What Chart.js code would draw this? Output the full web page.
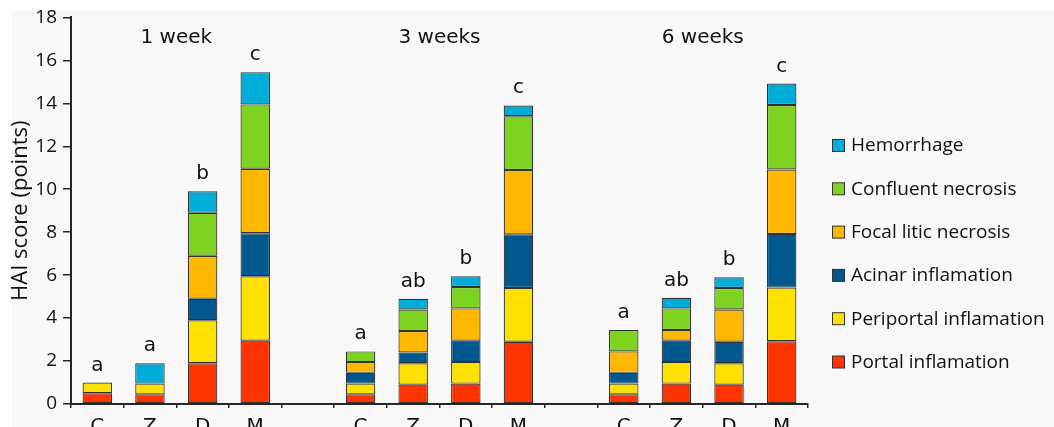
<!DOCTYPE html>
<html><head><meta charset="utf-8">
<script src="https://cdn.jsdelivr.net/npm/chart.js@4.4.1/dist/chart.umd.min.js"></script>
<style>
html,body{margin:0;padding:0;background:#fff;overflow:hidden;width:1054px;height:427px;}
#wrap{position:relative;width:1054px;height:440px;}
</style></head><body>
<div id="wrap"><canvas id="c" width="1054" height="440"></canvas></div>
<script>
// ---- data ----
const categories  = ['C','Z','D','M','','C','Z','D','M','','C','Z','D','M'];
const groupLabels = ['1 week','3 weeks','6 weeks'];
const sigLetters  = ['a','a','b','c','','a','ab','b','c','','a','ab','b','c'];
const yTicks      = [0,2,4,6,8,10,12,14,16,18];
const yTitle      = 'HAI score (points)';

const seriesNames = ['Portal inflamation','Periportal inflamation','Acinar inflamation','Focal litic necrosis','Confluent necrosis','Hemorrhage'];
const portal      = [0.5, 0.45, 1.9, 2.95, null, 0.45, 0.9, 0.95, 2.9, null, 0.45, 0.95, 0.9, 2.92];
const periportal  = [0.5, 0.5,  2.0, 3.0,  null, 0.5,  1.0, 1.0,  2.5, null, 0.5,  1.0,  1.0, 2.5];
const acinar      = [0,   0,    1.0, 2.0,  null, 0.5,  0.5, 1.0,  2.5, null, 0.5,  1.0,  1.0, 2.5];
const focal       = [0,   0,    2.0, 3.0,  null, 0.5,  1.0, 1.5,  3.0, null, 1.0,  0.5,  1.5, 3.0];
const confluent   = [0,   0,    2.0, 3.0,  null, 0.5,  1.0, 1.0,  2.5, null, 1.0,  1.0,  1.0, 3.0];
const hemorrhage  = [0,   0.95, 1.0, 1.5,  null, 0,    0.5, 0.5,  0.5, null, 0,    0.5,  0.5, 1.0];
const seriesValues = [portal, periportal, acinar, focal, confluent, hemorrhage];
const seriesColors = ['#FF3300','#FFE100','#00588C','#FFB800','#7ED321','#00ACD8'];

const TXT = '#111111';
const AX = '#262626';

const bgPlugin = {
  id:'bg',
  beforeDraw(chart){
    const ctx = chart.ctx;
    ctx.save();
    ctx.fillStyle = '#ffffff';
    ctx.fillRect(0,0,chart.width,chart.height);
    ctx.fillStyle = '#f8f8f8';
    ctx.fillRect(12,10,chart.width-12,chart.height-10);
    ctx.restore();
  }
};

const annotPlugin = {
  id:'annot',
  afterDatasetsDraw(chart){
    const ctx = chart.ctx, xs = chart.scales.x, ys = chart.scales.y;
    ctx.save();
    ctx.fillStyle = TXT;
    ctx.textAlign = 'center';
    ctx.textBaseline = 'alphabetic';
    ctx.font = '20px "DejaVu Sans"';
    // significance letters
    categories.forEach((c,i)=>{
      if(!sigLetters[i]) return;
      let total = 0;
      seriesValues.forEach(s=>{ total += (s[i]||0); });
      ctx.fillText(sigLetters[i], xs.getPixelForValue(i), ys.getPixelForValue(total) - 12);
    });
    // group labels: centre of each run of non-empty categories
    const runs = [];
    let start = null;
    categories.forEach((c,i)=>{
      if(c && start===null) start = i;
      if((!c || i===categories.length-1) && start!==null){
        const end = c ? i : i-1;
        runs.push([start,end]); start = null;
      }
    });
    runs.forEach((r,k)=>{
      const x = (xs.getPixelForValue(r[0]) + xs.getPixelForValue(r[1]))/2;
      ctx.fillText(groupLabels[k], x, 43);
    });
    // legend (reverse order)
    ctx.textAlign = 'left';
    ctx.textBaseline = 'middle';
    ctx.font = '19px "Open Sans"';
    const ds = chart.data.datasets.slice().reverse();
    ds.forEach((d,k)=>{
      const cy = 146 + k*43.3;
      ctx.fillStyle = d.backgroundColor;
      ctx.fillRect(832.5, cy-6.5, 12, 12);
      ctx.strokeStyle = '#333';
      ctx.lineWidth = 1;
      ctx.strokeRect(832.5, cy-6.5, 12, 12);
      ctx.fillStyle = TXT;
      ctx.fillText(d.label, 851, cy);
    });
    ctx.restore();
  }
};

new Chart(document.getElementById('c'), {
  type:'bar',
  data:{
    labels: categories,
    datasets: seriesNames.map((n,i)=>({
      label:n,
      data:seriesValues[i],
      backgroundColor:seriesColors[i],
      borderColor:'#333333',
      borderWidth:1.2,
      borderSkipped:false,
      barPercentage:0.56,
      categoryPercentage:1.0,
      stack:'s'
    }))
  },
  options:{
    responsive:false,
    animation:false,
    devicePixelRatio:1,
    layout:{padding:{left:0,top:16,right:246,bottom:0}},
    plugins:{legend:{display:false},tooltip:{enabled:false}},
    scales:{
      x:{
        stacked:true,
        grid:{display:true,drawOnChartArea:false,drawTicks:true,tickLength:4,offset:true,color:AX,tickColor:AX,lineWidth:1.5},
        border:{display:true,color:AX,width:2},
        ticks:{color:TXT,font:{family:'DejaVu Sans',size:20},padding:7,autoSkip:false,maxRotation:0},
        afterFit(s){ s.height = 36; }
      },
      y:{
        stacked:true,
        min:0,max:18,
        afterBuildTicks(s){ s.ticks = yTicks.map(v=>({value:v})); },
        grid:{display:true,drawOnChartArea:false,drawTicks:true,tickLength:8,color:AX,tickColor:AX,lineWidth:1.5},
        border:{display:true,color:AX,width:2},
        ticks:{color:TXT,font:{family:'Open Sans',size:19},padding:6},
        title:{display:true,text:yTitle,color:TXT,font:{family:'Open Sans',size:22},padding:{top:8,bottom:0}},
        afterFit(s){ s.width = 71; }
      }
    }
  },
  plugins:[bgPlugin, annotPlugin]
});
</script>
</body></html>
